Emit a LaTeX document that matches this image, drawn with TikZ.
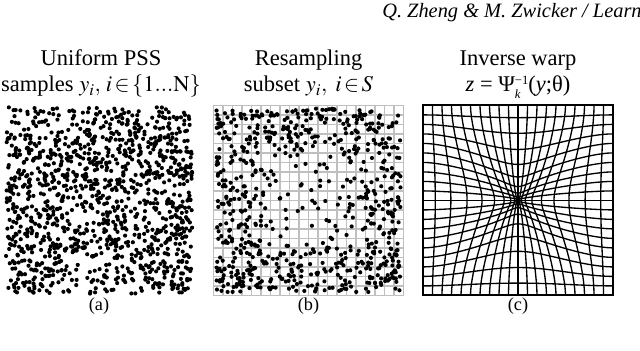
\documentclass[tikz,border=0pt]{standalone}
\usepackage{mathptmx}
\usepackage{fontspec}
\setmainfont{Liberation Serif}
\usepackage{tikz}

\tikzset{
  ttl/.style={font=\fontsize{16}{19.2}\selectfont,align=center,anchor=base,inner sep=0pt},
  sublbl/.style={font=\fontsize{13}{15}\selectfont,inner sep=0pt},
  smp/.style={fill=black},
  warp/.style={line width=0.95pt,black},
}
\newcommand\scr{\fontsize{9}{9}\selectfont}

\begin{document}
\begin{tikzpicture}
\useasboundingbox (0,0) rectangle (16,8.75);
\node[font=\fontsize{14.5}{17}\selectfont\itshape,anchor=base west,inner sep=0pt]
 (head) at (9.55,8.3) {Q. Zheng \& M. Zwicker / Learn};
% (a) uniform samples
\begin{scope}[shift={(2.475,3.74)}]
\pgfmathsetseed{11}
\foreach \k in {1,...,1250}
  \fill[smp] (2.33*rand,2.33*rand) circle (0.052);
\node[ttl] (tta) at (0.05,2.71)
 {Uniform PSS\\ samples $y_i,\,i\!\in\!\{1...\mathrm{N}\}$};
\node[sublbl] (capa) at (0,-2.64) {(a)};
\end{scope}
% (b) resampled subset
\begin{scope}[shift={(7.7125,3.74)}]
\draw[gray!50,line width=1pt] (-2.375,-2.375) grid[step=0.2375] (2.375,2.375);
\draw[gray!50,line width=1pt] (-2.375,-2.375) rectangle (2.375,2.375);
\pgfmathsetseed{5}
\foreach \k in {1,...,1350}{
  \pgfmathsetmacro\ux{rand}
  \pgfmathsetmacro\uy{rand}
  \pgfmathtruncatemacro\keep{rnd<1-0.9*(1-(\ux)*(\ux))*(1-(\uy)*(\uy))}
  \ifnum\keep=1 \fill[smp] (2.3*\ux,2.3*\uy) circle (0.052); \fi
}
\node[ttl] (ttb) at (0,2.71) {Resampling\\ subset $y_i,\ i\!\in\! S$};
\node[sublbl] (capb) at (0,-2.64) {(b)};
\end{scope}
% (c) inverse warp
\begin{scope}[shift={(12.95,3.74)}]
\foreach \j in {0,...,20}{
  \pgfmathsetmacro\lv{-1+\j/10}
  \pgfmathsetmacro\wv{1-(\lv)*(\lv)}
  \draw[warp] plot[domain=-1:1,samples=41,smooth]
   ({2.375*\x*(1-0.9*((1-(\x)*(\x))*\wv)^2)},{2.375*(\lv)*(1-0.9*((1-(\x)*(\x))*\wv)^2)});
  \draw[warp] plot[domain=-1:1,samples=41,smooth]
   ({2.375*(\lv)*(1-0.9*((1-(\x)*(\x))*\wv)^2)},{2.375*\x*(1-0.9*((1-(\x)*(\x))*\wv)^2)});
}
\draw[line width=1.5pt] (-2.375,-2.375) rectangle (2.375,2.375);
\node[ttl] (ttc) at (0,2.71)
 {Inverse warp\\ \textit{z} = Ψ\rlap{\raisebox{-4.6pt}{\scr\itshape k}}\raisebox{5.5pt}{\scr −1}(\textit{y};θ)};
\node[sublbl] (capc) at (0,-2.64) {(c)};
\end{scope}
\end{tikzpicture}
\end{document}
